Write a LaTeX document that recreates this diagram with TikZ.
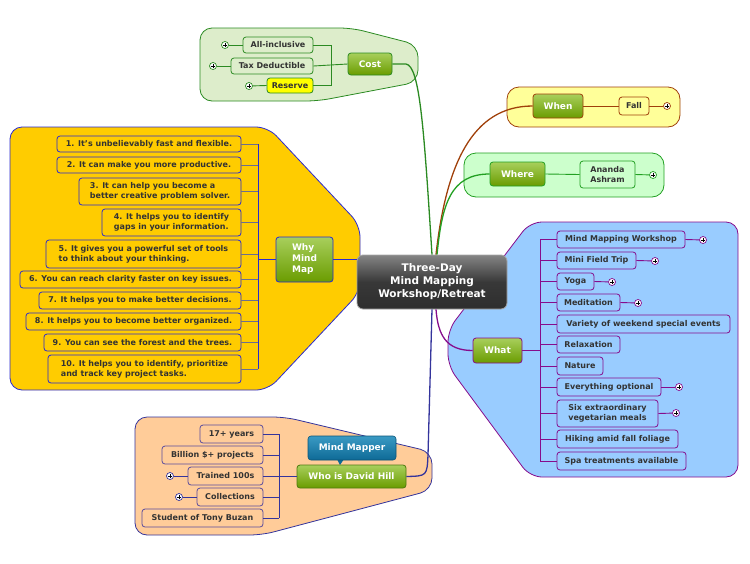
\documentclass[tikz,border=0pt]{standalone}
\usepackage{fontspec}
\setmainfont{DejaVu Sans}
\definecolor{txt}{HTML}{333333}
\definecolor{costL}{HTML}{2B8A22}
\definecolor{costF}{HTML}{DDEDCB}
\definecolor{whenL}{HTML}{A0400A}
\definecolor{whenF}{HTML}{FFFF99}
\definecolor{whereL}{HTML}{22A022}
\definecolor{whereF}{HTML}{CCFFCC}
\definecolor{whyL}{HTML}{2A2AD0}
\definecolor{whyF}{HTML}{FFCC00}
\definecolor{whyS}{HTML}{6E6E8E}
\definecolor{whatL}{HTML}{860C8C}
\definecolor{whatF}{HTML}{99CCFF}
\definecolor{whoL}{HTML}{34349C}
\definecolor{whoK}{HTML}{5A4C9E}
\definecolor{whoF}{HTML}{FFCC99}
\definecolor{gTop}{HTML}{A8CF5C}
\definecolor{gBot}{HTML}{6A9C00}
\definecolor{gBord}{HTML}{4E7A10}
\definecolor{bTop}{HTML}{3A9AC4}
\definecolor{bBot}{HTML}{0E6A96}
\definecolor{resY}{HTML}{FFFF00}
\begin{document}
\begin{tikzpicture}[x=1pt,y=-1pt,
  kid/.style={rectangle, rounded corners=3pt, line width=0.8pt, text=txt,
    inner sep=1pt, align=left, font=\fontsize{8}{10}\selectfont\bfseries},
  costkid/.style={kid, draw=costL, fill=costF},
  whenkid/.style={kid, draw=whenL, fill=whenF},
  wherekid/.style={kid, draw=whereL, fill=whereF},
  whykid/.style={kid, draw=whyL, fill=whyF},
  whatkid/.style={kid, draw=whatL, fill=whatF},
  whokid/.style={kid, draw=whoK, fill=whoF},
  mainbox/.style={rectangle, rounded corners=3pt, text=white, align=left,
    font=\fontsize{9}{11}\selectfont\bfseries, top color=gTop, bottom color=gBot,
    draw=#1, line width=0.8pt, inner sep=1pt},
  plusc/.style={circle, draw=#1, fill=white, line width=0.7pt, minimum size=7pt, inner sep=0pt,
    path picture={\draw[black,line width=0.7pt]
      ([xshift=-2pt]path picture bounding box.center) -- ([xshift=2pt]path picture bounding box.center)
      ([yshift=-2pt]path picture bounding box.center) -- ([yshift=2pt]path picture bounding box.center);}},
  grp/.style={line width=0.8pt, rounded corners=12pt},
  conn/.style={line width=1.3pt},
  stub/.style={line width=0.9pt}
]
\useasboundingbox (0,0) rectangle (750,563);

% ---------- group backgrounds ----------
\draw[grp, draw=costL, fill=costF] (200,28) -- (352,28) -- (418,45) -- (418,82) -- (318,101) -- (200,101) -- cycle;
\draw[grp, draw=whenL, fill=whenF] (507,87) rectangle (680,127);
\draw[grp, draw=whereL, fill=whereF] (464,153) rectangle (664,197);
\draw[grp, draw=whyL, fill=whyF] (10,127) -- (268,127) -- (360,225) -- (360,292) -- (268,390) -- (10,390) -- cycle;
\draw[grp, draw=whatL, fill=whatF] (530,222) -- (738,222) -- (738,477) -- (530,477) -- (448,366) -- (448,330) -- cycle;
\draw[grp, draw=whoL, fill=whoF] (135,417) -- (285,417) -- (432,452) -- (432,490) -- (262,535) -- (135,535) -- cycle;

% ---------- central node ----------
\node[rectangle, rounded corners=6pt, minimum width=150pt, minimum height=54pt,
  top color=black!48, bottom color=black!82, middle color=black!78, draw=black!35, line width=0.8pt,
  text=white, align=center, font=\fontsize{10.5}{13}\selectfont\bfseries]
  (ctr) at (432,282) {Three-Day\\Mind Mapping\\Workshop/Retreat};

% ---------- Cost ----------
\node[mainbox=costL, minimum width=44pt, minimum height=22pt, align=center] (cost) at (370,64) {Cost};
\node[costkid, minimum width=70pt, minimum height=16pt, align=center] (allinc) at (278,45) {All-inclusive};
\node[costkid, minimum width=82pt, minimum height=16pt, align=center] (tax) at (272,66) {Tax Deductible};
\node[costkid, fill=resY, minimum width=46pt, minimum height=15pt, align=center] (reserve) at (290,85.5) {Reserve};
\node[plusc=costL] (p1) at (225,45) {};
\node[plusc=costL] (p2) at (213,66) {};
\node[plusc=costL] (p3) at (249,86) {};
\coordinate (costbus) at (331,64);
\draw[costL, stub] (allinc.east) -- (allinc.east -| costbus) -- (reserve.east -| costbus) -- (reserve.east);
\draw[costL, stub] (tax.east) -- (cost.west);
\draw[costL, stub] (allinc.west) -- (p1);
\draw[costL, stub] (tax.west) -- (p2);
\draw[costL, stub] (reserve.west) -- (p3);

% ---------- When ----------
\node[mainbox=whenL, minimum width=50pt, minimum height=24pt, align=center] (when) at (558,106) {When};
\node[whenkid, minimum width=30pt, minimum height=18pt, align=center] (fall) at (634,106) {Fall};
\node[plusc=whenL] (p4) at (667,106) {};
\draw[whenL, stub] (when.east) -- (fall.west);
\draw[whenL, stub] (fall.east) -- (p4);

% ---------- Where ----------
\node[mainbox=whereL, minimum width=55pt, minimum height=24pt, align=center] (where) at (517.5,174) {Where};
\node[wherekid, minimum width=55pt, minimum height=27pt] (ananda) at (607.5,174.5) {Ananda\\Ashram};
\node[plusc=whereL] (p5) at (653,175) {};
\draw[whereL, stub] (where.east) -- (ananda.west);
\draw[whereL, stub] (ananda.east) -- (p5);

% ---------- Why Mind Map ----------
\node[mainbox=whyL, minimum width=57pt, minimum height=45pt] (why) at (304.5,259.5) {Why\\Mind\\Map};
\node[whykid, minimum width=184pt, minimum height=16pt] (w1) at (149,144) {1. It’s unbelievably fast and flexible.};
\node[whykid, minimum width=184pt, minimum height=16pt] (w2) at (149,165) {2. It can make you more productive.};
\node[whykid, minimum width=162pt, minimum height=27pt] (w3) at (160,191.5) {3. It can help you become a\\better creative problem solver.};
\node[whykid, minimum width=139pt, minimum height=27pt] (w4) at (171.5,222.5) {4. It helps you to identify\\gaps in your information.};
\node[whykid, minimum width=195pt, minimum height=28pt] (w5) at (143.5,254) {5. It gives you a powerful set of tools\\to think about your thinking.};
\node[whykid, minimum width=221pt, minimum height=17pt] (w6) at (130.5,279.5) {6. You can reach clarity faster on key issues.};
\node[whykid, minimum width=202pt, minimum height=17pt] (w7) at (140,300.5) {7. It helps you to make better decisions.};
\node[whykid, minimum width=215pt, minimum height=17pt] (w8) at (133.5,321.5) {8. It helps you to become better organized.};
\node[whykid, minimum width=197pt, minimum height=17pt] (w9) at (142.5,342.5) {9. You can see the forest and the trees.};
\node[whykid, minimum width=193pt, minimum height=28pt] (w10) at (144.5,369) {10. It helps you to identify, prioritize\\and track key project tasks.};
\coordinate (whybus) at (258,259.5);
\foreach \n in {w1,w2,w3,w4,w5,w6,w7,w8,w9,w10}
  \draw[whyS, stub] (\n.east) -- (\n.east -| whybus);
\draw[whyL, stub] (w1.east -| whybus) -- (w10.east -| whybus);
\draw[whyL, stub] (whybus) -- (why.west);
\draw[whyL, conn, line width=1pt] (why.east) -- (why.east -| ctr.west);

% ---------- What ----------
\node[mainbox=whatL, minimum width=49pt, minimum height=25pt, align=center] (what) at (497.5,350.5) {What};
\node[whatkid, minimum width=128pt, minimum height=17pt] (a1) at (621,239.5) {Mind Mapping Workshop};
\node[whatkid, minimum width=79pt, minimum height=17pt] (a2) at (596.5,260.5) {Mini Field Trip};
\node[whatkid, minimum width=37pt, minimum height=17pt] (a3) at (575.5,281.5) {Yoga};
\node[whatkid, minimum width=63pt, minimum height=17pt] (a4) at (588.5,302.5) {Meditation};
\node[whatkid, minimum width=173pt, minimum height=18pt] (a5) at (643.5,324) {Variety of weekend special events};
\node[whatkid, minimum width=63pt, minimum height=17pt] (a6) at (588.5,344.5) {Relaxation};
\node[whatkid, minimum width=46pt, minimum height=18pt] (a7) at (580,366) {Nature};
\node[whatkid, minimum width=104pt, minimum height=18pt] (a8) at (609,387) {Everything optional};
\node[whatkid, minimum width=101pt, minimum height=27pt] (a9) at (607.5,413.5) {Six extraordinary\\vegetarian meals};
\node[whatkid, minimum width=121pt, minimum height=18pt] (a10) at (617.5,439) {Hiking amid fall foliage};
\node[whatkid, minimum width=129pt, minimum height=18pt] (a11) at (621.5,461) {Spa treatments available};
\node[plusc=whatL] (q1) at (703,240) {};
\node[plusc=whatL] (q2) at (655,261) {};
\node[plusc=whatL] (q3) at (612,282) {};
\node[plusc=whatL] (q4) at (638,303) {};
\node[plusc=whatL] (q8) at (679,387) {};
\node[plusc=whatL] (q9) at (676,413) {};
\coordinate (whatbus) at (540,350.5);
\foreach \n in {a1,a2,a3,a4,a5,a6,a7,a8,a9,a10,a11}
  \draw[whatL, stub] (\n.west) -- (\n.west -| whatbus);
\draw[whatL, stub] (a1.west -| whatbus) -- (a11.west -| whatbus);
\draw[whatL, stub] (what.east) -- (whatbus);
\draw[whatL, stub] (a1.east) -- (q1);
\draw[whatL, stub] (a2.east) -- (q2);
\draw[whatL, stub] (a3.east) -- (q3);
\draw[whatL, stub] (a4.east) -- (q4);
\draw[whatL, stub] (a8.east) -- (q8);
\draw[whatL, stub] (a9.east) -- (q9);

% ---------- Who is David Hill ----------
\fill[bBot] (337,459) -- (344,459) -- (340,465) -- cycle;
\node[rectangle, rounded corners=3pt, top color=bTop, bottom color=bBot, draw=bBot!80!black, line width=0.6pt,
  text=white, font=\fontsize{9}{11}\selectfont\bfseries, minimum width=88pt, minimum height=24pt]
  (mm) at (352,448) {Mind Mapper};
\node[mainbox=gBord, minimum width=109pt, minimum height=23pt, align=center] (who) at (351.5,476.5) {Who is David Hill};
\node[whokid, minimum width=63pt, minimum height=18pt, align=center] (h1) at (231.5,434) {17+ years};
\node[whokid, minimum width=101pt, minimum height=18pt, align=center] (h2) at (212.5,455) {Billion \$+ projects};
\node[whokid, minimum width=75pt, minimum height=18pt, align=center] (h3) at (225.5,476) {Trained 100s};
\node[whokid, minimum width=66pt, minimum height=18pt, align=center] (h4) at (230,497) {Collections};
\node[whokid, minimum width=121pt, minimum height=18pt, align=center] (h5) at (202.5,518) {Student of Tony Buzan};
\node[plusc=whoL] (r3) at (170,476) {};
\node[plusc=whoL] (r4) at (179,497) {};
\coordinate (whobus) at (279,476.5);
\foreach \n in {h1,h2,h3,h4,h5}
  \draw[whoL, stub] (\n.east) -- (\n.east -| whobus);
\draw[whoL, stub] (h1.east -| whobus) -- (h5.east -| whobus);
\draw[whoL, stub] (whobus) -- (who.west);
\draw[whoL, stub] (h3.west) -- (r3);
\draw[whoL, stub] (h4.west) -- (r4);

% ---------- main connectors ----------
\draw[costL, conn] (cost.east) -- (406,64) .. controls (420,66) and (424,130) .. (ctr.north);
\draw[whenL, conn] ([xshift=4pt]ctr.north) .. controls (446,165) and (472,106) .. (when.west);
\draw[whereL, conn] ([xshift=5pt]ctr.north) .. controls (442,205) and (450,174) .. (where.west);
\draw[whatL, conn] ([xshift=4pt]ctr.south) .. controls (438,335) and (446,350.5) .. (what.west);
\draw[whoL, conn] (ctr.south) -- (428,455) .. controls (427,476) .. (who.east);
\end{tikzpicture}
\end{document}
